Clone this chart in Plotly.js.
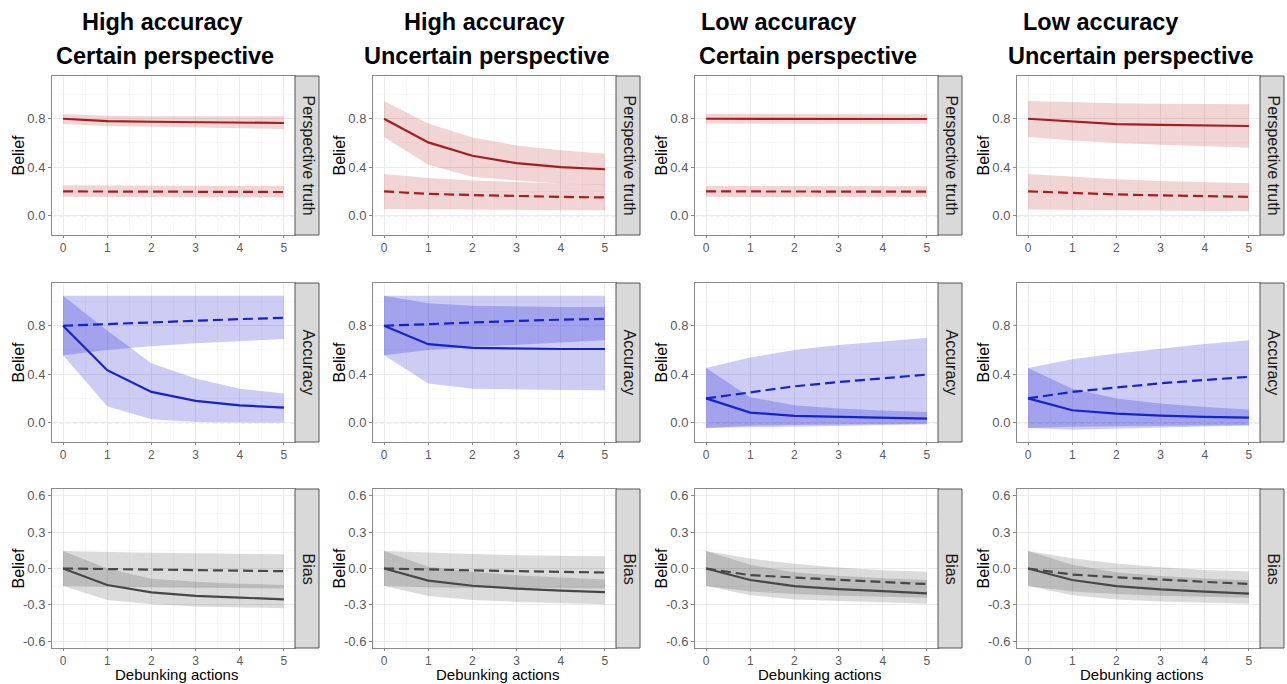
<!DOCTYPE html>
<html>
<head>
<meta charset="utf-8">
<script src="https://cdn.plot.ly/plotly-3.0.1.min.js"></script>
<style>html,body{margin:0;padding:0;background:#fff;}#chart{width:1287px;height:684px;}</style>
</head>
<body>
<div id="chart"></div>
<script>
// ---------- DATA ----------
const steps = [0, 1, 2, 3, 4, 5];
const xTickLabels = ['0', '1', '2', '3', '4', '5'];
const beliefTickVals = [0.0, 0.4, 0.8];
const beliefTickText = ['0.0', '0.4', '0.8'];
const biasTickVals = [-0.6, -0.3, 0.0, 0.3, 0.6];
const biasTickText = ['-0.6', '-0.3', '0.0', '0.3', '0.6'];
const titleLine1 = ['High accuracy', 'High accuracy', 'Low accuracy', 'Low accuracy'];
const titleLine2 = ['Certain perspective', 'Uncertain perspective', 'Certain perspective', 'Uncertain perspective'];
const rowLabels = ['Perspective truth', 'Accuracy', 'Bias'];
const yTitle = 'Belief';
const xTitle = 'Debunking actions';

// Perspective truth — High accuracy / Certain perspective
const pt1_solid   = [0.80, 0.78, 0.775, 0.77, 0.77, 0.765];
const pt1_solidLo = [0.757, 0.74, 0.73, 0.725, 0.72, 0.715];
const pt1_solidHi = [0.84, 0.825, 0.82, 0.82, 0.82, 0.82];
const pt1_dash    = [0.20, 0.20, 0.198, 0.197, 0.196, 0.195];
const pt1_dashLo  = [0.155, 0.155, 0.153, 0.152, 0.151, 0.15];
const pt1_dashHi  = [0.25, 0.25, 0.248, 0.247, 0.246, 0.245];
// Perspective truth — High accuracy / Uncertain perspective
const pt2_solid   = [0.80, 0.605, 0.494, 0.433, 0.40, 0.383];
const pt2_solidLo = [0.65, 0.42, 0.32, 0.29, 0.265, 0.25];
const pt2_solidHi = [0.947, 0.76, 0.645, 0.58, 0.54, 0.51];
const pt2_dash    = [0.20, 0.18, 0.17, 0.16, 0.155, 0.15];
const pt2_dashLo  = [0.055, 0.05, 0.048, 0.046, 0.045, 0.045];
const pt2_dashHi  = [0.344, 0.31, 0.29, 0.275, 0.265, 0.255];
// Perspective truth — Low accuracy / Certain perspective
const pt3_solid   = [0.80, 0.80, 0.80, 0.799, 0.799, 0.798];
const pt3_solidLo = [0.76, 0.76, 0.76, 0.759, 0.759, 0.758];
const pt3_solidHi = [0.84, 0.84, 0.84, 0.839, 0.839, 0.838];
const pt3_dash    = [0.20, 0.20, 0.20, 0.199, 0.199, 0.198];
const pt3_dashLo  = [0.155, 0.155, 0.155, 0.154, 0.154, 0.153];
const pt3_dashHi  = [0.245, 0.245, 0.245, 0.244, 0.244, 0.243];
// Perspective truth — Low accuracy / Uncertain perspective
const pt4_solid   = [0.80, 0.775, 0.755, 0.75, 0.745, 0.74];
const pt4_solidLo = [0.65, 0.62, 0.60, 0.585, 0.57, 0.56];
const pt4_solidHi = [0.947, 0.935, 0.928, 0.924, 0.921, 0.919];
const pt4_dash    = [0.20, 0.185, 0.175, 0.167, 0.16, 0.155];
const pt4_dashLo  = [0.05, 0.045, 0.042, 0.04, 0.038, 0.036];
const pt4_dashHi  = [0.344, 0.32, 0.30, 0.285, 0.275, 0.267];

// Accuracy — High accuracy / Certain perspective
const ac1_solid   = [0.80, 0.433, 0.254, 0.18, 0.143, 0.124];
const ac1_solidLo = [0.557, 0.135, 0.028, 0.005, 0.0, 0.0];
const ac1_solidHi = [1.048, 0.76, 0.49, 0.364, 0.28, 0.24];
const ac1_dash    = [0.80, 0.815, 0.83, 0.845, 0.855, 0.865];
const ac1_dashLo  = [0.557, 0.60, 0.63, 0.655, 0.675, 0.69];
const ac1_dashHi  = [1.048, 1.048, 1.048, 1.048, 1.048, 1.048];
// Accuracy — High accuracy / Uncertain perspective
const ac2_solid   = [0.80, 0.648, 0.618, 0.61, 0.608, 0.608];
const ac2_solidLo = [0.557, 0.323, 0.28, 0.273, 0.27, 0.268];
const ac2_solidHi = [1.048, 0.985, 0.965, 0.958, 0.955, 0.955];
const ac2_dash    = [0.80, 0.815, 0.83, 0.84, 0.85, 0.857];
const ac2_dashLo  = [0.557, 0.60, 0.625, 0.645, 0.663, 0.68];
const ac2_dashHi  = [1.048, 1.048, 1.048, 1.048, 1.048, 1.048];
// Accuracy — Low accuracy / Certain perspective
const ac3_solid   = [0.20, 0.083, 0.055, 0.047, 0.041, 0.033];
const ac3_solidLo = [-0.045, -0.025, -0.02, -0.015, -0.012, -0.01];
const ac3_solidHi = [0.452, 0.21, 0.143, 0.116, 0.10, 0.088];
const ac3_dash    = [0.20, 0.25, 0.30, 0.335, 0.368, 0.397];
const ac3_dashLo  = [-0.045, -0.035, -0.03, -0.025, -0.02, -0.015];
const ac3_dashHi  = [0.452, 0.538, 0.599, 0.64, 0.67, 0.70];
// Accuracy — Low accuracy / Uncertain perspective
const ac4_solid   = [0.20, 0.102, 0.075, 0.058, 0.048, 0.041];
const ac4_solidLo = [-0.044, -0.035, -0.03, -0.025, -0.022, -0.02];
const ac4_solidHi = [0.452, 0.28, 0.20, 0.157, 0.13, 0.108];
const ac4_dash    = [0.20, 0.254, 0.29, 0.325, 0.352, 0.378];
const ac4_dashLo  = [-0.044, -0.058, -0.05, -0.04, -0.032, -0.025];
const ac4_dashHi  = [0.452, 0.524, 0.57, 0.61, 0.65, 0.68];

// Bias — High accuracy / Certain perspective
const bi1_solid   = [0.0, -0.136, -0.196, -0.226, -0.24, -0.254];
const bi1_solidLo = [-0.145, -0.26, -0.295, -0.313, -0.32, -0.327];
const bi1_solidHi = [0.145, 0.0, -0.085, -0.11, -0.125, -0.135];
const bi1_dash    = [0.0, -0.005, -0.01, -0.015, -0.02, -0.022];
const bi1_dashLo  = [-0.145, -0.15, -0.155, -0.16, -0.163, -0.165];
const bi1_dashHi  = [0.145, 0.135, 0.13, 0.125, 0.12, 0.118];
// Bias — High accuracy / Uncertain perspective
const bi2_solid   = [0.0, -0.10, -0.142, -0.166, -0.183, -0.194];
const bi2_solidLo = [-0.145, -0.226, -0.26, -0.275, -0.286, -0.295];
const bi2_solidHi = [0.145, 0.015, -0.027, -0.055, -0.074, -0.09];
const bi2_dash    = [0.0, -0.01, -0.015, -0.022, -0.028, -0.033];
const bi2_dashLo  = [-0.145, -0.155, -0.16, -0.163, -0.165, -0.165];
const bi2_dashHi  = [0.145, 0.13, 0.12, 0.11, 0.105, 0.10];
// Bias — Low accuracy / Certain perspective
const bi3_solid   = [0.0, -0.095, -0.145, -0.17, -0.187, -0.205];
const bi3_solidLo = [-0.145, -0.22, -0.255, -0.27, -0.28, -0.29];
const bi3_solidHi = [0.145, 0.03, -0.03, -0.06, -0.08, -0.095];
const bi3_dash    = [0.0, -0.055, -0.074, -0.095, -0.112, -0.128];
const bi3_dashLo  = [-0.145, -0.19, -0.21, -0.225, -0.235, -0.24];
const bi3_dashHi  = [0.145, 0.082, 0.04, 0.008, -0.014, -0.027];
// Bias — Low accuracy / Uncertain perspective
const bi4_solid   = [0.0, -0.095, -0.145, -0.172, -0.19, -0.207];
const bi4_solidLo = [-0.145, -0.22, -0.255, -0.272, -0.282, -0.29];
const bi4_solidHi = [0.145, 0.03, -0.03, -0.062, -0.082, -0.097];
const bi4_dash    = [0.0, -0.05, -0.072, -0.093, -0.11, -0.128];
const bi4_dashLo  = [-0.145, -0.19, -0.21, -0.225, -0.235, -0.24];
const bi4_dashHi  = [0.145, 0.085, 0.042, 0.01, -0.012, -0.025];

// ---------- BUILD ----------
const panels = [
  [pt1_solid, pt1_solidLo, pt1_solidHi, pt1_dash, pt1_dashLo, pt1_dashHi],
  [pt2_solid, pt2_solidLo, pt2_solidHi, pt2_dash, pt2_dashLo, pt2_dashHi],
  [pt3_solid, pt3_solidLo, pt3_solidHi, pt3_dash, pt3_dashLo, pt3_dashHi],
  [pt4_solid, pt4_solidLo, pt4_solidHi, pt4_dash, pt4_dashLo, pt4_dashHi],
  [ac1_solid, ac1_solidLo, ac1_solidHi, ac1_dash, ac1_dashLo, ac1_dashHi],
  [ac2_solid, ac2_solidLo, ac2_solidHi, ac2_dash, ac2_dashLo, ac2_dashHi],
  [ac3_solid, ac3_solidLo, ac3_solidHi, ac3_dash, ac3_dashLo, ac3_dashHi],
  [ac4_solid, ac4_solidLo, ac4_solidHi, ac4_dash, ac4_dashLo, ac4_dashHi],
  [bi1_solid, bi1_solidLo, bi1_solidHi, bi1_dash, bi1_dashLo, bi1_dashHi],
  [bi2_solid, bi2_solidLo, bi2_solidHi, bi2_dash, bi2_dashLo, bi2_dashHi],
  [bi3_solid, bi3_solidLo, bi3_solidHi, bi3_dash, bi3_dashLo, bi3_dashHi],
  [bi4_solid, bi4_solidLo, bi4_solidHi, bi4_dash, bi4_dashLo, bi4_dashHi]
];

const W = 1287, H = 684;
const colLeft = [52, 373, 695, 1017], plotW = 243, stripW = 24;
const rowTop = [76, 283, 489], plotH = 159;
const lineColors = ['#A51E1E', '#1424C8', '#474747'];
const fillColors = ['rgba(178,34,34,0.19)', 'rgba(0,0,205,0.2)', 'rgba(0,0,0,0.14)'];
const FONT = 'Liberation Sans, Arial, Helvetica, sans-serif';

const px = v => v / W;
const py = v => 1 - v / H;

const traces = [];
const layout = {
  width: W, height: H,
  margin: {l: 0, r: 0, t: 0, b: 0},
  paper_bgcolor: '#fff', plot_bgcolor: '#fff',
  showlegend: false,
  font: {family: FONT},
  shapes: [], annotations: []
};

for (let r = 0; r < 3; r++) {
  for (let c = 0; c < 4; c++) {
    const i = r * 4 + c + 1;
    const xa = 'x' + i, ya = 'y' + i;
    const p = panels[i - 1];
    const rev = a => a.slice().reverse();
    const polyX = steps.concat(rev(steps));
    // ribbons
    [[p[2], p[1]], [p[5], p[4]]].forEach(([hi, lo]) => {
      traces.push({
        x: polyX, y: hi.concat(rev(lo)), xaxis: xa, yaxis: ya,
        type: 'scatter', mode: 'lines', fill: 'toself',
        fillcolor: fillColors[r], line: {width: 0, color: 'rgba(0,0,0,0)'},
        hoverinfo: 'skip'
      });
    });
    // lines
    traces.push({x: steps, y: p[0], xaxis: xa, yaxis: ya, type: 'scatter', mode: 'lines',
      line: {color: lineColors[r], width: 2.2}});
    traces.push({x: steps, y: p[3], xaxis: xa, yaxis: ya, type: 'scatter', mode: 'lines',
      line: {color: lineColors[r], width: 2.2, dash: '10px,5px'}});

    const L = colLeft[c], T = rowTop[r];
    const isBias = r === 2;
    layout['xaxis' + i] = {
      domain: [px(L), px(L + plotW)], anchor: ya,
      range: [-0.25, 5.25], tickmode: 'array', tickvals: steps, ticktext: xTickLabels,
      showgrid: true, gridcolor: '#EBEBEB', gridwidth: 1,
      minor: {tickmode: 'linear', tick0: 0, dtick: 0.5, showgrid: true, gridcolor: '#F4F4F4', gridwidth: 0.6},
      zeroline: false, showline: true, mirror: true, linecolor: '#8A8A8A', linewidth: 1,
      ticks: 'outside', ticklen: 2, tickcolor: '#8A8A8A', tickwidth: 1,
      tickfont: {size: 12, color: '#5A5A5A', family: FONT}, fixedrange: true
    };
    layout['yaxis' + i] = {
      domain: [py(T + plotH), py(T)], anchor: xa,
      range: isBias ? [-0.655, 0.655] : [-0.16, 1.153],
      tickmode: 'array',
      tickvals: isBias ? biasTickVals : beliefTickVals,
      ticktext: isBias ? biasTickText : beliefTickText,
      showgrid: true, gridcolor: '#EBEBEB', gridwidth: 1,
      minor: isBias
        ? {tickmode: 'linear', tick0: 0.15, dtick: 0.3, showgrid: true, gridcolor: '#F4F4F4', gridwidth: 0.6}
        : {tickmode: 'linear', tick0: 0.2, dtick: 0.4, showgrid: true, gridcolor: '#F4F4F4', gridwidth: 0.6},
      zeroline: false, showline: true, mirror: true, linecolor: '#8A8A8A', linewidth: 1,
      ticks: 'outside', ticklen: 3, tickcolor: '#8A8A8A', tickwidth: 1,
      tickfont: {size: 13, color: '#5A5A5A', family: FONT}, fixedrange: true
    };
    // dashed zero reference line
    layout.shapes.push({type: 'line', xref: 'paper', x0: px(L), x1: px(L + plotW), yref: ya, y0: 0, y1: 0,
      line: {color: '#C4C4C4', width: 1.2, dash: '4px,3px'}, layer: 'below'});
    // strip
    layout.shapes.push({type: 'rect', xref: 'paper', yref: 'paper',
      x0: px(L + plotW), x1: px(L + plotW + stripW), y0: py(T + plotH), y1: py(T),
      fillcolor: '#D9D9D9', line: {color: '#555', width: 1}, layer: 'above'});
    layout.annotations.push({xref: 'paper', yref: 'paper', x: px(L + plotW + stripW / 2 + 1), y: py(T + plotH / 2),
      text: rowLabels[r], textangle: 90, showarrow: false, xanchor: 'center', yanchor: 'middle',
      font: {size: 16, color: '#1A1A1A', family: FONT}});
    // y title
    layout.annotations.push({xref: 'paper', yref: 'paper', x: px(L - 34), y: py(T + plotH / 2),
      text: yTitle, textangle: -90, showarrow: false, xanchor: 'center', yanchor: 'middle',
      font: {size: 16, color: '#000', family: FONT}});
    if (r === 2) {
      layout.annotations.push({xref: 'paper', yref: 'paper', x: px(L + plotW / 2 + 3), y: py(674.5),
        text: xTitle, showarrow: false, xanchor: 'center', yanchor: 'middle',
        font: {size: 15, color: '#000', family: FONT}});
    }
  }
}

// column titles
const title1X = [162, 484, 778, 1100];
const title2X = [165, 487, 808, 1131];
for (let c = 0; c < 4; c++) {
  layout.annotations.push({xref: 'paper', yref: 'paper', x: px(title1X[c]), y: py(22),
    text: '<b>' + titleLine1[c] + '</b>', showarrow: false, xanchor: 'center', yanchor: 'middle',
    font: {size: 23.5, color: '#000', family: FONT}});
  layout.annotations.push({xref: 'paper', yref: 'paper', x: px(title2X[c]), y: py(56),
    text: '<b>' + titleLine2[c] + '</b>', showarrow: false, xanchor: 'center', yanchor: 'middle',
    font: {size: 23.5, color: '#000', family: FONT}});
}

Plotly.newPlot('chart', traces, layout, {displayModeBar: false, staticPlot: true});
</script>
</body>
</html>
